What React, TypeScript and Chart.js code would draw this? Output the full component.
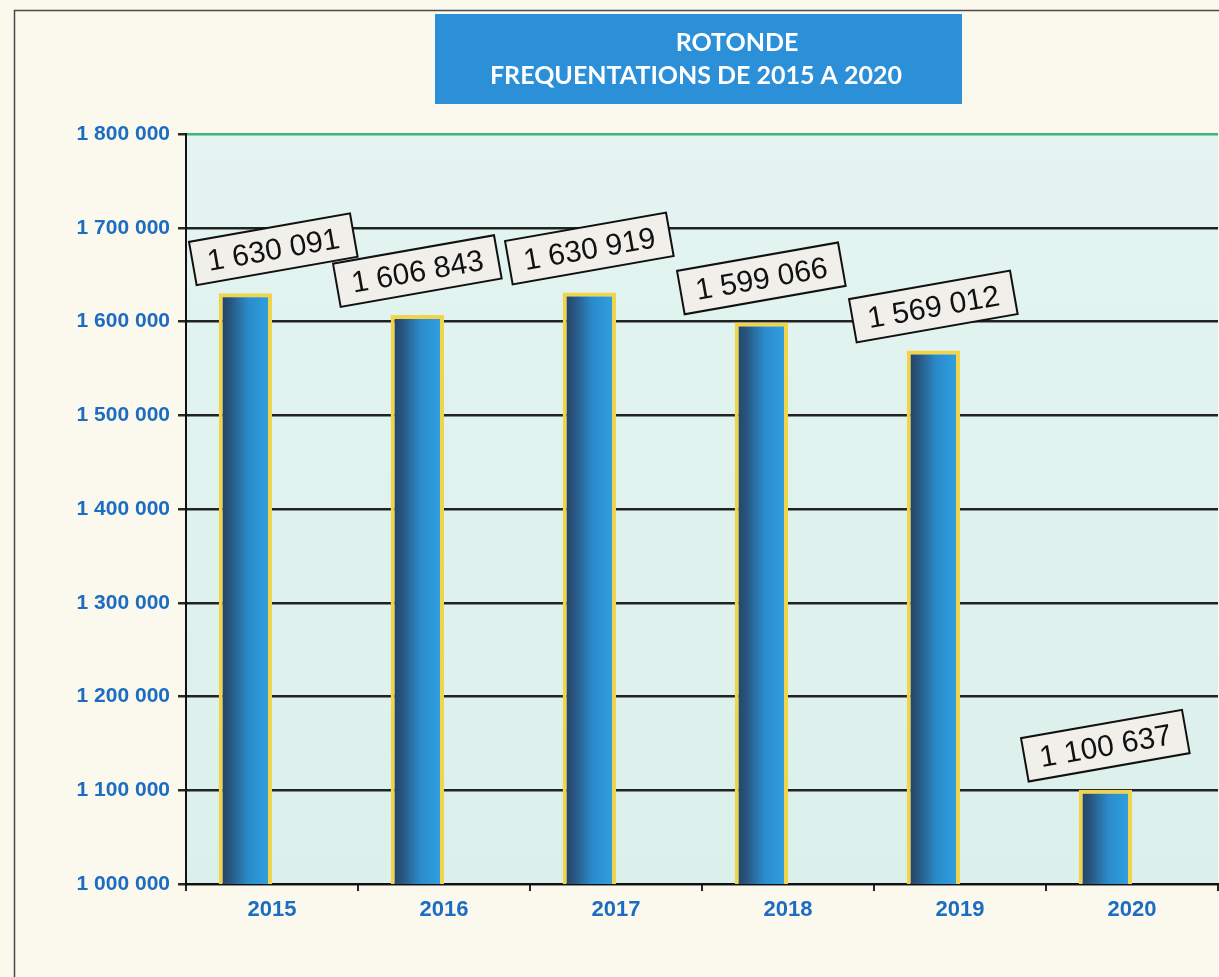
import React, { useEffect, useRef } from 'react';
import { Chart, registerables } from 'chart.js';

Chart.register(...registerables);

// ---- data ----
const years: string[] = ['2015', '2016', '2017', '2018', '2019', '2020'];
const visitors: number[] = [1630091, 1606843, 1630919, 1599066, 1569012, 1100637];
const titleLines: string[] = ['ROTONDE', 'FREQUENTATIONS DE 2015 A 2020'];
const yMin = 1000000;
const yMax = 1800000;
const yStep = 100000;

// ---- styles ----
const W = 1219;
const H = 977;
const CREAM = '#fbf9ee';
const BLUE_TEXT = '#1c6cc1';
const CAT_PCT = 0.62;
const FONT = '"Liberation Sans", Arial, sans-serif';

const fmt = (v: number) => String(Math.round(v)).replace(/\B(?=(\d{3})+(?!\d))/g, ' ');

const backgroundPlugin = {
  id: 'bgPlugin',
  beforeDraw(chart: any) {
    const { ctx, chartArea: a } = chart;
    ctx.save();
    ctx.fillStyle = CREAM;
    ctx.fillRect(0, 0, W, H);
    ctx.strokeStyle = '#4a4a4a';
    ctx.lineWidth = 1.5;
    ctx.beginPath();
    ctx.moveTo(14.5, H);
    ctx.lineTo(14.5, 10.5);
    ctx.lineTo(W, 10.5);
    ctx.stroke();
    const g = ctx.createLinearGradient(0, a.top, 0, a.bottom);
    g.addColorStop(0, '#e3f4f1');
    g.addColorStop(1, '#dcf0eb');
    ctx.fillStyle = g;
    ctx.fillRect(a.left, a.top, a.right - a.left, a.bottom - a.top);
    ctx.restore();
  },
};

const labelPlugin = {
  id: 'labelPlugin',
  afterDatasetsDraw(chart: any) {
    const { ctx, chartArea: a } = chart;
    const meta = chart.getDatasetMeta(0);
    const ang = (-10 * Math.PI) / 180;
    ctx.save();
    ctx.font = `30px ${FONT}`;
    meta.data.forEach((el: any, i: number) => {
      const { x, y } = el.getProps(['x', 'y'], true);
      const text = fmt(visitors[i]);
      const bw = ctx.measureText(text).width + 30;
      const bh = 44;
      const half = (bw * Math.cos(ang) + bh * Math.abs(Math.sin(ang))) / 2;
      const cx = Math.max(x, a.left + half + 3);
      const cy = y - 44;
      ctx.save();
      ctx.translate(cx, cy);
      ctx.rotate(ang);
      ctx.fillStyle = '#f0efea';
      ctx.fillRect(-bw / 2, -bh / 2, bw, bh);
      ctx.strokeStyle = '#111';
      ctx.lineWidth = 2;
      ctx.strokeRect(-bw / 2, -bh / 2, bw, bh);
      ctx.fillStyle = '#111';
      ctx.textAlign = 'center';
      ctx.textBaseline = 'middle';
      ctx.fillText(text, 0, 2);
      ctx.restore();
    });
    ctx.restore();
  },
};

const titlePlugin = {
  id: 'titleBox',
  afterDraw(chart: any) {
    const { ctx } = chart;
    ctx.save();
    ctx.fillStyle = '#2b90d8';
    ctx.fillRect(435, 14, 527, 90);
    ctx.fillStyle = '#ffffff';
    ctx.textAlign = 'center';
    ctx.textBaseline = 'middle';
    ctx.font = `bold 25px Lato, "Open Sans", sans-serif`;
    ctx.fillText(titleLines[0], 737, 43);
    ctx.fillText(titleLines[1], 696, 76);
    ctx.restore();
  },
};

export default function App() {
  const ref = useRef<HTMLCanvasElement | null>(null);

  useEffect(() => {
    if (!ref.current) return;
    const chart = new Chart(ref.current, {
      type: 'bar',
      data: {
        labels: years,
        datasets: [
          {
            label: 'Fréquentation',
            data: visitors,
            backgroundColor: (c: any) => {
              const ch = c.chart;
              const xs = ch.scales && ch.scales.x;
              if (!ch.chartArea || !xs || c.dataIndex === undefined) return '#2a7ab8';
              const catW = xs.width / years.length;
              const center = xs.getPixelForValue(c.dataIndex);
              const left = center - (catW * CAT_PCT) / 2;
              const right = left + (catW * CAT_PCT) / 2;
              const g = ch.ctx.createLinearGradient(left, 0, right, 0);
              g.addColorStop(0, '#233f5d');
              g.addColorStop(0.22, '#28557f');
              g.addColorStop(0.55, '#2b8bca');
              g.addColorStop(1, '#30a2e2');
              return g;
            },
            borderColor: '#f0d44c',
            borderWidth: 4,
            borderSkipped: false,
            categoryPercentage: CAT_PCT,
            barPercentage: 1,
          },
          {
            label: '',
            data: years.map(() => null),
            categoryPercentage: CAT_PCT,
            barPercentage: 1,
          },
        ],
      },
      options: {
        responsive: false,
        animation: false,
        layout: { padding: { top: 134, right: 1, left: 0, bottom: 0 } },
        plugins: {
          legend: { display: false },
          title: { display: false },
          tooltip: { enabled: false },
        },
        scales: {
          x: {
            ticks: {
              color: BLUE_TEXT,
              font: { family: FONT, size: 22, weight: 'bold' },
              padding: 6,
            },
            grid: {
              offset: true,
              drawOnChartArea: false,
              drawTicks: true,
              tickLength: 7,
              color: '#222',
              lineWidth: 2,
            },
            border: { color: '#111', width: 2 },
            afterFit: (s: any) => {
              s.height = 93;
            },
          },
          y: {
            min: yMin,
            max: yMax,
            ticks: {
              stepSize: yStep,
              callback: (v: any) => fmt(Number(v)),
              color: BLUE_TEXT,
              font: { family: FONT, size: 21, weight: 'bold' },
              padding: 8,
            },
            grid: {
              color: (c: any) => (c.tick && c.tick.value === yMax ? '#3bb57a' : '#222222'),
              tickColor: '#262626',
              lineWidth: 2.5,
              tickLength: 8,
            },
            border: { color: '#111', width: 2 },
            afterFit: (s: any) => {
              s.width = 186;
            },
          },
        },
      },
      plugins: [backgroundPlugin, labelPlugin, titlePlugin],
    } as any);
    return () => chart.destroy();
  }, []);

  return (
    <div style={{ position: 'absolute', left: 0, top: 0, width: W, height: H, overflow: 'hidden', background: CREAM }}>
      <canvas ref={ref} width={W} height={H} style={{ display: 'block', width: W, height: H }} />
    </div>
  );
}
